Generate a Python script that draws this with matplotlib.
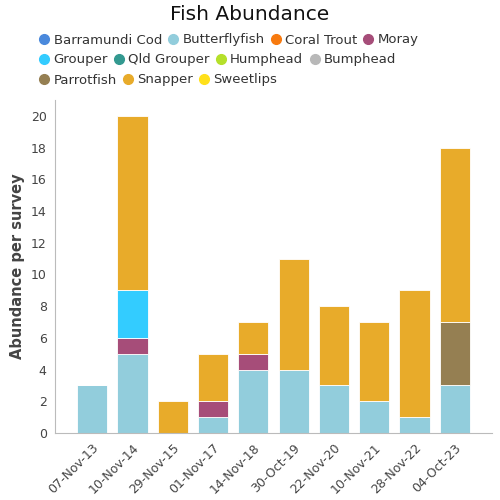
import numpy as np
import matplotlib.pyplot as plt
from matplotlib.lines import Line2D

dates = ["07-Nov-13", "10-Nov-14", "29-Nov-15", "01-Nov-17", "14-Nov-18",
         "30-Oct-19", "22-Nov-20", "10-Nov-21", "28-Nov-22", "04-Oct-23"]

species = ["Barramundi Cod", "Butterflyfish", "Coral Trout", "Moray",
           "Grouper", "Qld Grouper", "Humphead", "Bumphead",
           "Parrotfish", "Snapper", "Sweetlips"]

colors = ["#4a89dc", "#92cddc", "#f77a0f", "#a64d79",
          "#33ccff", "#339990", "#b5e02a", "#b8b8b8",
          "#957f52", "#e8ab2a", "#ffe01a"]

# stacking order bottom -> top
barramundi = [0, 0, 0, 0, 0, 0, 0, 0, 0, 0]
butterfly  = [3, 5, 0, 1, 4, 4, 3, 2, 1, 3]
coraltrout = [0, 0, 0, 0, 0, 0, 0, 0, 0, 0]
moray      = [0, 1, 0, 1, 1, 0, 0, 0, 0, 0]
grouper    = [0, 3, 0, 0, 0, 0, 0, 0, 0, 0]
qldgrouper = [0, 0, 0, 0, 0, 0, 0, 0, 0, 0]
humphead   = [0, 0, 0, 0, 0, 0, 0, 0, 0, 0]
bumphead   = [0, 0, 0, 0, 0, 0, 0, 0, 0, 0]
parrotfish = [0, 0, 0, 0, 0, 0, 0, 0, 0, 4]
snapper    = [0, 11, 2, 3, 2, 7, 5, 5, 8, 11]
sweetlips  = [0, 0, 0, 0, 0, 0, 0, 0, 0, 0]

series = [barramundi, butterfly, coraltrout, moray, grouper, qldgrouper,
          humphead, bumphead, parrotfish, snapper, sweetlips]

fig = plt.figure(figsize=(5, 5), dpi=100)
ax = fig.add_axes([0.11, 0.134, 0.874, 0.666])

x = np.arange(len(dates))
bottom = np.zeros(len(dates))
for name, vals, c in zip(species, series, colors):
    vals = np.array(vals, float)
    if vals.sum() > 0:
        ax.bar(x, vals, 0.75, bottom=bottom, color=c, edgecolor="white",
               linewidth=0.6)
    bottom += vals

ax.set_xlim(-0.92, len(dates) - 0.08)
ax.set_ylim(0, 21)
ax.set_yticks(range(0, 21, 2))
ax.set_xticks(x)
ax.set_xticklabels(dates, rotation=45, ha="right", rotation_mode="anchor")
ax.tick_params(axis="both", colors="#444444", labelsize=9, length=0)
ax.tick_params(axis="x", pad=6)
ax.tick_params(axis="y", pad=6)
for s in ["top", "right"]:
    ax.spines[s].set_visible(False)
for s in ["left", "bottom"]:
    ax.spines[s].set_color("#bbbbbb")
ax.set_ylabel("Abundance per survey", fontsize=10.5, color="#444444",
              fontweight="bold", labelpad=4)

fig.text(0.5, 0.972, "Fish Abundance", ha="center", va="center",
         fontsize=14.5, color="#111111")

rows = [species[0:4], species[4:8], species[8:11]]
ys = [0.92, 0.88, 0.84]
i = 0
for row, y in zip(rows, ys):
    handles = []
    for name in row:
        handles.append(Line2D([], [], marker="o", linestyle="none",
                              markersize=7, color=colors[i], label=name))
        i += 1
    fig.legend(handles=handles, loc="center left", bbox_to_anchor=(0.078, y),
               ncol=len(row), frameon=False, fontsize=9.5,
               handletextpad=0.3, columnspacing=0.45, borderpad=0,
               borderaxespad=0, handlelength=0.8, labelcolor="#333333")

fig.savefig("out.png", dpi=100)
